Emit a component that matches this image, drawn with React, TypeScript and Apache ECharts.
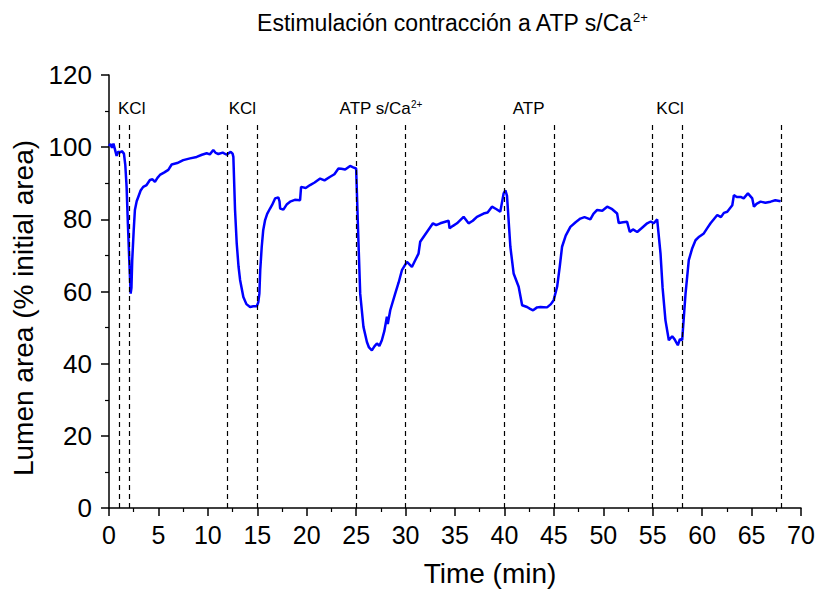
import React, { useEffect, useRef } from "react";
import * as echarts from "echarts";

const timeMin = [0, 0.15, 0.3, 0.45, 0.6, 0.77, 0.95, 1.1, 1.3, 1.51, 1.65, 1.78, 1.92, 2.05, 2.19, 2.27, 2.35, 2.5, 2.62, 2.8, 2.96, 3.2, 3.46, 3.8, 4.14, 4.4, 4.65, 4.9, 5.15, 5.6, 6.0, 6.34, 6.9, 7.51, 8.2, 8.87, 9.4, 9.88, 10.2, 10.55, 10.8, 11.06, 11.5, 11.91, 12.1, 12.31, 12.5, 12.58, 12.75, 12.92, 13.1, 13.26, 13.59, 13.9, 14.27, 14.6, 14.95, 15.1, 15.21, 15.3, 15.45, 15.6, 15.79, 16.0, 16.29, 16.5, 16.8, 17.13, 17.25, 17.31, 17.64, 18.0, 18.32, 18.8, 19.33, 19.43, 19.9, 20.34, 20.8, 21.36, 21.8, 22.37, 22.8, 23.21, 23.5, 23.89, 24.39, 24.7, 25.0, 25.24, 25.41, 25.74, 26.09, 26.3, 26.59, 26.85, 27.1, 27.35, 27.6, 27.85, 28.11, 28.2, 28.45, 28.95, 29.3, 29.63, 30.14, 30.64, 31.0, 31.31, 31.48, 32.16, 32.77, 33.1, 33.51, 34.35, 34.45, 34.8, 35.2, 35.87, 36.37, 36.8, 37.22, 37.89, 38.3, 38.74, 39.2, 39.58, 39.92, 40.1, 40.26, 40.6, 40.93, 41.44, 41.79, 42.29, 42.6, 42.9, 43.3, 43.64, 44.31, 44.7, 44.98, 45.33, 45.6, 45.83, 46.2, 46.67, 47.2, 47.68, 48.1, 48.69, 49.0, 49.38, 49.9, 50.39, 50.9, 51.4, 51.56, 52.0, 52.41, 52.68, 53.0, 53.43, 53.9, 54.44, 54.8, 55.11, 55.45, 55.79, 56.0, 56.29, 56.63, 56.97, 57.2, 57.54, 57.75, 57.98, 58.32, 58.65, 59.0, 59.33, 59.7, 60.17, 60.5, 60.85, 61.2, 61.53, 61.9, 62.2, 62.54, 63.05, 63.21, 63.5, 63.89, 64.2, 64.63, 65.07, 65.24, 65.5, 65.91, 66.4, 66.93, 67.4, 67.94];

const lumenArea = [100.3, 100.9, 99.8, 101.0, 99.4, 97.6, 98.8, 98.5, 98.9, 98.2, 95, 89.0, 78, 68.7, 59.4, 61, 68.7, 77, 82.6, 85, 86.2, 88, 89.0, 89.5, 90.9, 91.1, 90.4, 91.5, 92.3, 93, 93.7, 95.2, 95.6, 96.4, 96.9, 97.3, 97.9, 98.3, 98.0, 99.2, 98.4, 98.1, 98.5, 97.9, 98.3, 98.7, 98.2, 97.3, 82.6, 73.3, 67, 63.2, 58.5, 56.5, 55.7, 55.9, 55.9, 57, 59.4, 66, 72.4, 77, 79.8, 81.5, 83.0, 84, 85.8, 86.1, 85, 83.0, 82.7, 84.2, 84.9, 85.4, 85.3, 89.0, 88.7, 89.5, 90.2, 91.3, 90.8, 91.8, 92.5, 94.1, 94.0, 93.8, 94.8, 94.4, 94.1, 73.3, 59.4, 50.2, 46.0, 44.5, 43.7, 44.8, 45.6, 44.9, 46.5, 49, 53.0, 51, 54.8, 59.4, 62.5, 65.9, 68.2, 66.8, 68.8, 70.5, 73.8, 76.5, 78.9, 78.4, 78.9, 79.6, 77.5, 78.2, 78.9, 80.7, 78.9, 79.6, 80.7, 81.6, 81.9, 83.5, 82.8, 82.1, 87.2, 88.0, 86.5, 72.4, 65.0, 61.3, 56.2, 55.7, 55.2, 54.8, 55.6, 55.7, 55.6, 56.5, 57.6, 61.3, 67, 72.4, 75.5, 77.9, 79.2, 80.2, 80.6, 80.0, 81.5, 82.6, 82.4, 83.5, 82.8, 81.6, 79.0, 79.2, 79.3, 76.5, 77.2, 76.5, 77.6, 78.9, 79.4, 78.9, 80.0, 70.5, 61, 52.0, 46.5, 47.6, 46.8, 45.1, 46.8, 46.5, 59.4, 68.7, 72, 74.2, 75.2, 76.1, 77.5, 78.9, 80.1, 81.2, 80.6, 81.8, 82.1, 83.9, 86.7, 86.2, 86.2, 85.8, 87.2, 85.8, 83.5, 84.3, 84.9, 84.6, 84.9, 85.3, 85.0];

const stimulusTimes = [1, 2, 12, 15, 25, 30, 40, 45, 55, 58, 68];
const stimulusLabels = ["KCl", "KCl", "ATP s/Ca{sup|2+}", "ATP", "KCl"];
const stimulusLabelX = [2.3, 13.5, 27.5, 42.45, 56.75];
const dashTop = 107;
const labelY = 110.6;

const xTicks = [0, 5, 10, 15, 20, 25, 30, 35, 40, 45, 50, 55, 60, 65, 70];
const yTicks = [0, 20, 40, 60, 80, 100, 120];

const titleText = "Estimulación contracción a ATP s/Ca{sup|2+}";
const xName = "Time (min)";
const yName = "Lumen area (% initial area)";

const FONT = "Liberation Sans, Arial, sans-serif";

export default function App() {
  const ref = useRef<HTMLDivElement>(null);
  useEffect(() => {
    if (!ref.current) return;
    const chart = echarts.init(ref.current, undefined, { renderer: "svg" });
    const lineData = timeMin.map((t, i) => [t, lumenArea[i]]);
    chart.setOption({
      animation: false,
      backgroundColor: "#ffffff",
      graphic: [
        {
          type: "text",
          x: 452,
          y: 23,
          style: {
            text: titleText,
            fontFamily: FONT,
            fontSize: 23,
            fill: "#000",
            align: "center",
            verticalAlign: "middle",
            rich: {
              sup: { fontSize: 13, verticalAlign: "top", padding: [0, 0, 12, 0], fontFamily: FONT, fill: "#000" },
            },
          },
        },
        {
          type: "text",
          x: 23,
          y: 308,
          rotation: Math.PI / 2,
          style: {
            text: yName,
            fontFamily: FONT,
            fontSize: 28,
            fill: "#000",
            align: "center",
            verticalAlign: "middle",
          },
        },
        {
          type: "text",
          x: 490,
          y: 573,
          style: {
            text: xName,
            fontFamily: FONT,
            fontSize: 28,
            fill: "#000",
            align: "center",
            verticalAlign: "middle",
          },
        },
      ],
      grid: { left: 109, right: 20, top: 75, bottom: 84 },
      xAxis: {
        type: "value",
        min: xTicks[0],
        max: xTicks[xTicks.length - 1],
        interval: 5,
        axisLine: { show: true, lineStyle: { color: "#000", width: 1.5 } },
        axisTick: { show: true, inside: false, length: 8, lineStyle: { color: "#000", width: 1.5 } },
        minorTick: { show: true, splitNumber: 2, length: 4, lineStyle: { color: "#000", width: 1.2 } },
        axisLabel: { fontFamily: FONT, fontSize: 25, color: "#000", margin: 14 },
        splitLine: { show: false },
      },
      yAxis: {
        type: "value",
        min: yTicks[0],
        max: yTicks[yTicks.length - 1],
        interval: 20,
        axisLine: { show: true, lineStyle: { color: "#000", width: 1.5 } },
        axisTick: { show: true, inside: false, length: 8, lineStyle: { color: "#000", width: 1.5 } },
        minorTick: { show: true, splitNumber: 2, length: 4, lineStyle: { color: "#000", width: 1.2 } },
        axisLabel: { fontFamily: FONT, fontSize: 26, color: "#000", margin: 17 },
        splitLine: { show: false },
      },
      series: [
        {
          type: "line",
          data: lineData,
          showSymbol: false,
          symbol: "none",
          lineStyle: { color: "#0000ff", width: 2.5 },
          z: 3,
          markLine: {
            silent: true,
            symbol: ["none", "none"],
            label: { show: false },
            lineStyle: { color: "#000", type: [5, 4], width: 1.2 },
            data: stimulusTimes.map((t) => [
              { coord: [t, 0] },
              { coord: [t, dashTop] },
            ]),
          },
          markPoint: {
            silent: true,
            symbol: "circle",
            symbolSize: 0,
            data: stimulusLabels.map((l, i) => ({
              coord: [stimulusLabelX[i], labelY],
              value: l,
              label: {
                show: true,
                formatter: l,
                fontFamily: FONT,
                fontSize: 17,
                color: "#000",
                rich: {
                  sup: { fontSize: 10, verticalAlign: "top", padding: [0, 0, 9, 0], fontFamily: FONT, color: "#000" },
                },
              },
            })),
          },
        },
      ],
    });
    return () => chart.dispose();
  }, []);
  return <div ref={ref} style={{ width: 821, height: 592, position: "absolute", left: 0, top: 0 }} />;
}
